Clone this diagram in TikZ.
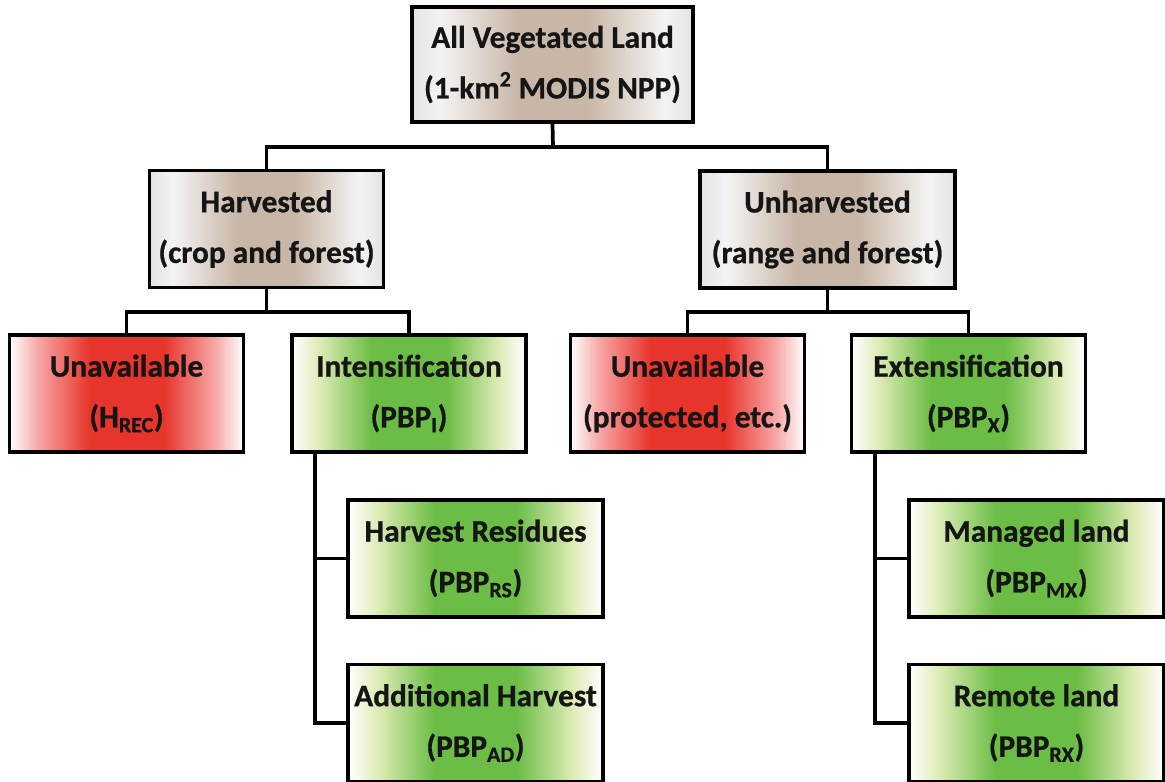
\documentclass[tikz,border=0pt]{standalone}
\usepackage{fontspec}
\setmainfont{Carlito}[BoldFeatures={FakeBold=0.8}]
\usepackage{tikz}
\usetikzlibrary{positioning}
\usetikzlibrary{calc}
\definecolor{txtcol}{HTML}{151515}
\definecolor{redmid}{HTML}{E8352C}
\definecolor{redpale}{HTML}{F7A8A8}
\definecolor{greenmid}{HTML}{6CBD45}
\definecolor{greenpale}{HTML}{DCEBB4}
\definecolor{taupe}{HTML}{C8B6A6}
\definecolor{greypale}{HTML}{E4E2E2}
% fades: white at the sides, full colour in the middle
\pgfdeclarehorizontalshading{redfade}{100bp}{color(0bp)=(white); color(25bp)=(white);
  color(31bp)=(redpale); color(42bp)=(redmid); color(58bp)=(redmid);
  color(69bp)=(redpale); color(75bp)=(white); color(100bp)=(white)}
\pgfdeclarehorizontalshading{greenfade}{100bp}{color(0bp)=(white); color(25bp)=(white);
  color(31bp)=(greenpale); color(42bp)=(greenmid); color(58bp)=(greenmid);
  color(69bp)=(greenpale); color(75bp)=(white); color(100bp)=(white)}
\pgfdeclarehorizontalshading{greyfade}{100bp}{color(0bp)=(greypale); color(25bp)=(greypale);
  color(30bp)=(white!60!greypale); color(44bp)=(taupe); color(56bp)=(taupe);
  color(70bp)=(white!60!greypale); color(75bp)=(greypale); color(100bp)=(greypale)}
\newcommand{\sub}[1]{\textsubscript{#1}}

\begin{document}
\begin{tikzpicture}[x=0.75pt,y=-0.75pt,line width=2.8pt,
  box/.style={draw=black,shade,align=center,text=txtcol,inner sep=2pt,
    font=\fontsize{23.5}{38}\selectfont\bfseries,
    minimum width=175.5pt,minimum height=87.75pt},
  wide/.style={minimum width=191.25pt},
  greybox/.style={box,shading=greyfade},
  redbox/.style={box,shading=redfade},
  greenbox/.style={box,shading=greenfade}]
  \useasboundingbox (0,0) rectangle (1165,782);

  % top two levels
  \node[greybox, minimum width=210.75pt, minimum height=86.25pt] (V) at (552.5,64.5) {All Vegetated Land\\(1-km\textsuperscript{2} MODIS NPP)};
  \node[greybox] (H) at (266.5,229) {Harvested\\(crop and forest)};
  \node[greybox, wide] (U) at (827.5,229.5) {Unharvested\\(range and forest)};

  % third level
  \node[redbox] (HU) at (126.5,393.5) {Unavailable\\(H\sub{REC})};
  \node[greenbox] (I) at (409,393.5) {Intensification\\(PBP\sub{I})};
  \node[redbox] (UU) at (687.5,393.5) {Unavailable\\(protected, etc.)};
  \node[greenbox] (X) at (968.5,393.5) {Extensification\\(PBP\sub{X})};

  % fourth level
  \node[greenbox, wide] (RS) at (475.5,558.5) {Harvest Residues\\(PBP\sub{RS})};
  \node[greenbox, wide] (AD) at (475.5,723) {Additional Harvest\\(PBP\sub{AD})};
  \node[greenbox, wide] (MX) at (1036.5,558.5) {Managed land\\(PBP\sub{MX})};
  \node[greenbox, wide] (RX) at (1036.5,723) {Remote land\\(PBP\sub{RX})};

  \coordinate (b1) at (553,147);
  \coordinate (b2) at (266.5,312);
  \coordinate (b3) at (827.5,312);
  \coordinate (t1) at (315,0);
  \coordinate (t2) at (875,0);

  \draw (V.south) -- (b1);
  \draw (H.north) |- (b1) -| (U.north);
  \draw (H.south) -- (b2);
  \draw (HU.north) |- (b2) -| (I.north);
  \draw (U.south) -- (b3);
  \draw (UU.north) |- (b3) -| (X.north);
  \draw (t1 |- I.south) |- (RS.west);
  \draw (t1 |- I.south) |- (AD.west);
  \draw (t2 |- X.south) |- (MX.west);
  \draw (t2 |- X.south) |- (RX.west);
\end{tikzpicture}
\end{document}
